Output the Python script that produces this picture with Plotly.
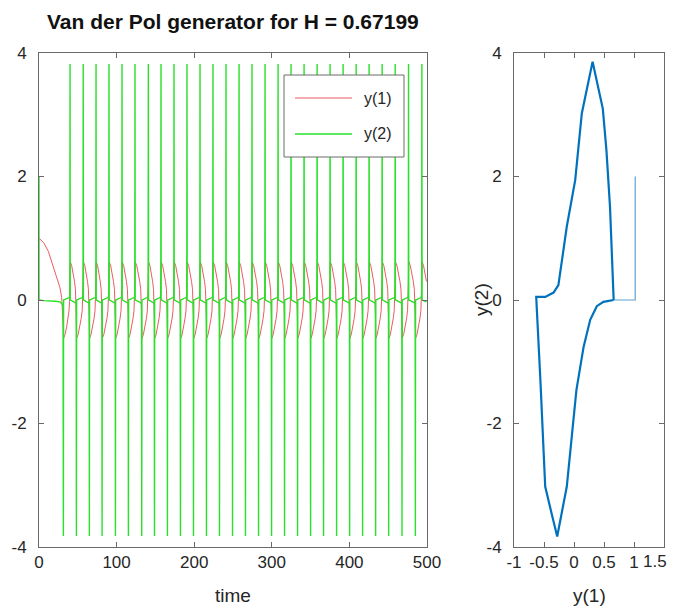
import plotly.graph_objects as go
from plotly.subplots import make_subplots

# %% DATA
t_end = 500.0

# start of the run, before the first spike
t_start = [0.0, 0.05, 6.0, 12.0, 20.6, 27.0, 29.2, 31.0]
y1_start = [1.0, 1.0, 0.93, 0.79, 0.47, 0.2, 0.04, -0.25]
y2_start = [2.0, 0.0, -0.01, -0.01, -0.02, -0.03, -0.05, -0.08]

# spike times of y(2)
neg_spikes = [31.4, 48.2, 64.9, 81.3, 98.5, 115.2, 132.4, 148.8, 165.5, 182.3,
              199.1, 215.8, 232.6, 249.4, 266.1, 282.9, 299.7, 316.4, 333.2, 350.0,
              366.7, 383.5, 400.3, 417.0, 433.8, 450.6, 467.8, 485.0]
pos_spikes = [40.0, 57.0, 73.5, 90.2, 107.0, 123.7, 140.9, 157.2, 174.0, 190.7,
              207.5, 224.2, 241.0, 257.8, 274.5, 291.3, 308.1, 324.8, 341.6, 358.4,
              375.1, 391.9, 408.7, 425.4, 442.2, 459.0, 476.2, 493.4]
spike_peak = 3.82
spike_y1 = 0.45

# one slow half swing between two spikes (position as fraction of the gap)
arc_frac = [0.03, 0.25, 0.5, 0.7, 0.85, 0.93, 0.97]
arc_y1 = [0.62, 0.56, 0.43, 0.3, 0.17, 0.02, -0.25]
arc_y2 = [0.0, -0.01, -0.02, -0.03, -0.04, -0.05, -0.07]

# phase portrait: start-up path and the limit cycle
tr_y1 = [1.02, 1.02, 0.66]
tr_y2 = [2.0, 0.0, 0.0]
cyc_y1 = [0.66, 0.49, 0.38, 0.27, 0.16, 0.04, -0.12, -0.28, -0.40, -0.48, -0.56,
          -0.62, -0.63, -0.48, -0.34, -0.26, -0.23, -0.12, 0.02, 0.13, 0.31,
          0.48, 0.54, 0.60, 0.66, 0.66]
cyc_y2 = [0.0, -0.03, -0.1, -0.32, -0.76, -1.46, -3.02, -3.83, -3.35, -3.02, -1.3,
          0.0, 0.05, 0.05, 0.12, 0.24, 0.44, 1.19, 1.94, 3.02, 3.86,
          3.1, 2.43, 1.51, 0.03, 0.0]

# tick labels
t_ticks = [0, 100, 200, 300, 400, 500]
y_ticks = [-4, -2, 0, 2, 4]
y_tick_text = ["-4", "-2", "0", "2", "4"]
p_ticks = [-1, -0.5, 0, 0.5, 1, 1.5]
p_tick_text = ["-1", "-0.5", "0", "0.5", "1", "1.5"]

# %% BUILD THE TIME SERIES
t_vals, y1_vals, y2_vals = list(t_start), list(y1_start), list(y2_start)
spikes = sorted([(t, -1) for t in neg_spikes] + [(t, 1) for t in pos_spikes])
for i, (ts, sign) in enumerate(spikes):
    t_vals.append(ts)
    y1_vals.append(sign * spike_y1)
    y2_vals.append(sign * spike_peak)
    if i + 1 < len(spikes):
        gap = spikes[i + 1][0] - ts
    else:
        gap = ts - spikes[i - 1][0]
    for f, a, b in zip(arc_frac, arc_y1, arc_y2):
        t = ts + f * gap
        if t > t_end:
            break
        t_vals.append(t)
        y1_vals.append(sign * a)
        y2_vals.append(sign * b)

# %% FIGURE
# the page body keeps its default 8px margin, so the figure is placed at (8, 8)
PAD = 8
W, H = 677 - PAD, 608 - PAD
RIGHT_EDGE = 669  # anything past this page pixel gets clipped


def fx(p):
    return (p - PAD) / W


def fy(p):
    return 1 - (p - PAD) / H


RED = "rgb(236,90,98)"
GREEN = "rgb(40,225,40)"
FONT = "Liberation Sans, Arial"
TXT = "#262626"

fig = make_subplots(rows=1, cols=2)

fig.add_trace(go.Scatter(x=t_vals, y=y1_vals, mode="lines", name="y(1)",
                         line=dict(color=RED, width=1)), row=1, col=1)
fig.add_trace(go.Scatter(x=t_vals, y=y2_vals, mode="lines", name="y(2)",
                         line=dict(color=GREEN, width=1.4)), row=1, col=1)

fig.add_trace(go.Scatter(x=tr_y1, y=tr_y2, mode="lines",
                         line=dict(color="rgb(95,160,212)", width=1.2)), row=1, col=2)
fig.add_trace(go.Scatter(x=cyc_y1, y=cyc_y2, mode="lines",
                         line=dict(color="rgb(0,114,189)", width=2.2)), row=1, col=2)

axis_style = dict(
    showline=True, mirror="ticks", linecolor="#6a6a6a", linewidth=1,
    ticks="inside", ticklen=5, tickcolor="#6a6a6a", showgrid=False,
    zeroline=False, tickangle=0, automargin=False,
    tickfont=dict(family=FONT, size=17, color=TXT),
)

fig.update_xaxes(axis_style)
fig.update_yaxes(axis_style)
fig.update_yaxes(ticklabelstandoff=8)

fig.update_layout(
    width=W, height=H,
    margin=dict(l=0, r=0, t=0, b=0, autoexpand=False),
    paper_bgcolor="white", plot_bgcolor="white",
    showlegend=False,
    xaxis=dict(domain=[fx(39), fx(427)], range=[0, 500], tickvals=t_ticks),
    yaxis=dict(domain=[fy(547), fy(53)], range=[-4, 4],
               tickvals=y_ticks, ticktext=y_tick_text),
    # last label of the phase axis is placed by hand so it is not clipped
    xaxis2=dict(domain=[fx(514), fx(664)], range=[-1, 1.5],
                tickvals=p_ticks, ticktext=p_tick_text[:-1] + [""]),
    yaxis2=dict(domain=[fy(547), fy(53)], range=[-4, 4],
                tickvals=y_ticks, ticktext=y_tick_text),
)
fig.add_annotation(x=fx(RIGHT_EDGE), y=fy(561), xref="paper", yref="paper",
                   showarrow=False, text=p_tick_text[-1], xanchor="right",
                   yanchor="middle", font=dict(family=FONT, size=17, color=TXT))

# legend box drawn by hand to match the original layout
fig.add_shape(type="rect", xref="paper", yref="paper",
              x0=fx(284), x1=fx(404), y0=fy(157), y1=fy(75),
              fillcolor="white", line=dict(color="#6a6a6a", width=1), layer="above")
for yy, col, w, lab in [(98, RED, 1, "y(1)"), (134, GREEN, 1.4, "y(2)")]:
    fig.add_shape(type="line", xref="paper", yref="paper",
                  x0=fx(295), x1=fx(352), y0=fy(yy), y1=fy(yy),
                  line=dict(color=col, width=w), layer="above")
    fig.add_annotation(x=fx(362), y=fy(yy), xref="paper", yref="paper",
                       text=lab, showarrow=False, xanchor="left", yanchor="middle",
                       font=dict(family=FONT, size=16, color=TXT))

text_font = dict(family=FONT, size=19, color=TXT)
fig.add_annotation(x=fx(233), y=fy(22), xref="paper", yref="paper", showarrow=False,
                   text="<b>Van der Pol generator for H = 0.67199</b>",
                   font=dict(family=FONT, size=21, color="#111"),
                   xanchor="center", yanchor="middle")
fig.add_annotation(x=fx(233), y=fy(595), xref="paper", yref="paper", showarrow=False,
                   text="time", font=text_font, xanchor="center", yanchor="middle")
fig.add_annotation(x=fx(589), y=fy(595), xref="paper", yref="paper", showarrow=False,
                   text="y(1)", font=text_font, xanchor="center", yanchor="middle")
fig.add_annotation(x=fx(481), y=fy(300), xref="paper", yref="paper", showarrow=False,
                   text="y(2)", font=text_font, textangle=-90,
                   xanchor="center", yanchor="middle")

fig.write_html("out.html")
